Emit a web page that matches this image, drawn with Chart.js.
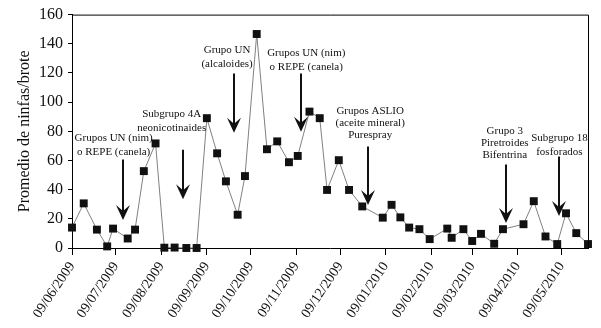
<!DOCTYPE html>
<html>
<head>
<meta charset="utf-8">
<script src="https://cdn.jsdelivr.net/npm/chart.js@4.4.1/dist/chart.umd.min.js"></script>
<style>
    body { margin: 0; background: #fff; }
    #wrap { width: 601px; height: 328px; }
</style>
</head>
<body>
<div id="wrap"><canvas id="ninfasChart" width="601" height="328"></canvas></div>
<script>
// días desde el 09/06/2009 de cada muestreo
const dias = [0, 8, 17, 24, 28, 38, 43, 49, 57, 63, 70, 78, 85, 92, 99, 105, 113, 118, 126, 133,
    140, 148, 154, 162, 169, 174, 182, 189, 198, 212, 218, 224, 230, 237, 244, 256, 259, 267, 273, 279,
    288, 294, 308, 315, 323, 331, 337, 344, 352];
// promedio de ninfas por brote
const ninfas = [14, 30.6, 12.6, 1.1, 13.3, 6.5, 12.6, 52.7, 71.7, 0.2, 0.3, 0, 0, 89, 64.9, 45.7, 22.8, 49.3, 146.7, 67.7,
    73.1, 58.8, 63.1, 93.5, 89, 39.8, 60.2, 39.8, 28.5, 20.8, 29.6, 21, 14, 12.9, 6.1, 13.3, 7, 12.9, 4.8, 9.7,
    2.9, 12.9, 16.3, 32.1, 7.9, 2.7, 23.8, 10.2, 2.7];

// marcas del eje x (días) y sus etiquetas
const tickDias = [0, 30, 61, 92, 122, 153, 183, 214, 245, 273, 304, 334];
const tickFechas = ['09/06/2009', '09/07/2009', '09/08/2009', '09/09/2009', '09/10/2009', '09/11/2009',
    '09/12/2009', '09/01/2010', '09/02/2010', '09/03/2010', '09/04/2010', '09/05/2010'];

// aplicaciones (flechas)
const aplicTextos = [
    ['Grupos UN (nim)', 'o REPE (canela)'],
    ['Subgrupo 4A', 'neonicotinaides'],
    ['Grupo UN', '(alcaloides)'],
    ['Grupos UN (nim)', 'o REPE (canela)'],
    ['Grupos ASLIO', '(aceite mineral)', 'Purespray'],
    ['Grupo 3', 'Piretroides', 'Bifentrina'],
    ['Subgrupo 18', 'fosforados']
];
const aplicDia = [34.8, 75.9, 110.4, 156.4, 202.2, 296.3, 332.4];
const aplicTope = [60.6, 67.4, 119.7, 119.7, 69.5, 57.2, 62.7];
const aplicPunta = [19.2, 33.5, 79, 79.7, 29.4, 17.2, 21.9];
const aplicTextoDia = [28.4, 68, 105.8, 159.8, 203.4, 295.2, 332.5];
const aplicTextoY = [75.6, 91.9, 136, 133.3, 93.9, 80.3, 75.6];

const serif = '"Liberation Serif", "DejaVu Serif", serif';

const aplicacionesPlugin = {
    id: 'aplicaciones',
    afterDraw(chart) {
        const ctx = chart.ctx;
        const xs = chart.scales.x;
        const ys = chart.scales.y;
        const area = chart.chartArea;
        ctx.save();

        // marco superior y derecho
        ctx.strokeStyle = '#000';
        ctx.lineWidth = 1;
        ctx.beginPath();
        ctx.moveTo(area.left, area.top + 0.5);
        ctx.lineTo(area.right + 0.5, area.top + 0.5);
        ctx.lineTo(area.right + 0.5, area.bottom);
        ctx.stroke();

        ctx.fillStyle = '#111';
        ctx.font = '11px ' + serif;
        ctx.textAlign = 'center';
        ctx.textBaseline = 'middle';
        aplicTextos.forEach((lineas, i) => {
            const tx = xs.getPixelForValue(aplicTextoDia[i]);
            const ty = ys.getPixelForValue(aplicTextoY[i]);
            const paso = lineas.length > 2 ? 12 : 14;
            lineas.forEach((t, j) => ctx.fillText(t, tx, ty + j * paso));

            const ax = Math.round(xs.getPixelForValue(aplicDia[i]));
            const top = ys.getPixelForValue(aplicTope[i]);
            const tip = ys.getPixelForValue(aplicPunta[i]);
            ctx.strokeStyle = '#111';
            ctx.lineWidth = 2;
            ctx.beginPath();
            ctx.moveTo(ax, top);
            ctx.lineTo(ax, tip - 8);
            ctx.stroke();
            ctx.beginPath();
            ctx.moveTo(ax, tip);
            ctx.lineTo(ax - 7, tip - 15);
            ctx.lineTo(ax, tip - 9);
            ctx.lineTo(ax + 7, tip - 15);
            ctx.closePath();
            ctx.fill();
        });
        ctx.restore();
    }
};

const ctx = document.getElementById('ninfasChart').getContext('2d');
const ninfasChart = new Chart(ctx, {
    type: 'line',
    data: {
        datasets: [{
            data: dias.map((d, i) => ({ x: d, y: ninfas[i] })),
            borderColor: '#808080',
            borderWidth: 1,
            pointStyle: 'rect',
            pointRadius: 5.6,
            pointBackgroundColor: '#111',
            pointBorderWidth: 0,
            tension: 0,
            clip: false
        }]
    },
    options: {
        responsive: false,
        animation: false,
        devicePixelRatio: 1,
        layout: { padding: { top: 13, right: 13, left: 0, bottom: 0 } },
        plugins: {
            legend: { display: false },
            tooltip: { enabled: false }
        },
        scales: {
            x: {
                type: 'linear',
                min: 0,
                max: 352,
                afterBuildTicks: (scale) => {
                    scale.ticks = tickDias.map(v => ({ value: v }));
                },
                afterFit: (scale) => { scale.height = 80; },
                grid: { display: true, drawOnChartArea: false, tickLength: 7, color: '#000' },
                border: { color: '#000', width: 1 },
                ticks: {
                    autoSkip: false,
                    minRotation: 56,
                    maxRotation: 56,
                    padding: 4,
                    color: '#111',
                    font: { family: serif, size: 14 },
                    callback: (value, index) => tickFechas[index]
                }
            },
            y: {
                min: 0,
                max: 160,
                afterFit: (scale) => { scale.width = 72; },
                grid: { display: true, drawOnChartArea: false, tickLength: 4, color: '#000' },
                border: { color: '#000', width: 1 },
                ticks: {
                    stepSize: 20,
                    padding: 5,
                    color: '#111',
                    font: { family: serif, size: 16 }
                },
                title: {
                    display: true,
                    text: 'Promedio de ninfas/brote',
                    color: '#111',
                    font: { family: serif, size: 16 },
                    padding: { top: 15, bottom: 0 }
                }
            }
        }
    },
    plugins: [aplicacionesPlugin]
});
</script>
</body>
</html>
